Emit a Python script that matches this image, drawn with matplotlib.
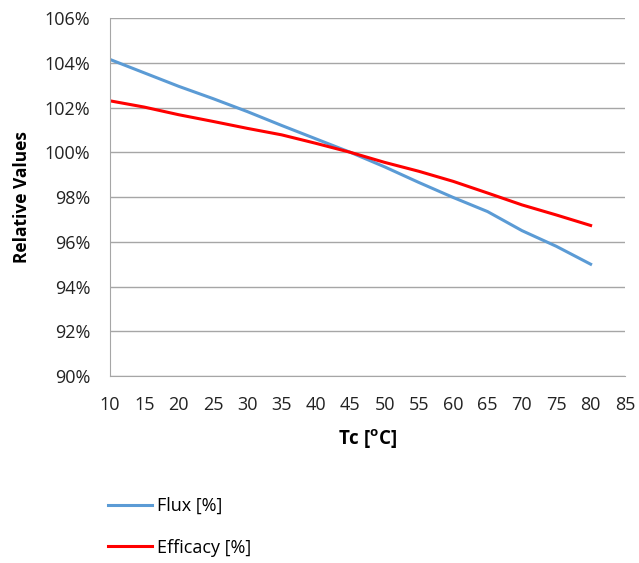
import matplotlib
matplotlib.use("Agg")
import matplotlib.pyplot as plt
from matplotlib.ticker import FuncFormatter

plt.rcParams['font.family'] = ['Open Sans', 'DejaVu Sans']

# Data
temps = [10, 15, 20, 25, 30, 35, 40, 45, 50, 55, 60, 65, 70, 75, 80]
flux = [104.15, 103.55, 102.95, 102.4, 101.82, 101.2, 100.6, 100.0,
        99.35, 98.65, 97.98, 97.35, 96.5, 95.8, 95.0]
efficacy = [102.3, 102.02, 101.68, 101.38, 101.07, 100.78, 100.4, 100.0,
            99.55, 99.15, 98.7, 98.18, 97.65, 97.2, 96.73]
x_ticks = list(range(10, 90, 5))
y_ticks = list(range(90, 108, 2))

fig = plt.figure(figsize=(6.39, 5.63), dpi=100)
ax = fig.add_axes([0.172, 0.332, 0.806, 0.636])

ax.plot(temps, flux, color='#5B9BD5', linewidth=2.2, label='Flux [%]')
ax.plot(temps, efficacy, color='#FF0000', linewidth=2.2, label='Efficacy [%]')

ax.set_xlim(10, 85)
ax.set_ylim(90, 106)
ax.set_xticks(x_ticks)
ax.set_yticks(y_ticks)
ax.yaxis.set_major_formatter(FuncFormatter(lambda v, p: f'{v:.0f}%'))
ax.tick_params(axis='both', length=0, labelsize=13, colors='#222222')
ax.tick_params(axis='x', pad=14)
ax.tick_params(axis='y', pad=14)

ax.grid(axis='y', color='#A6A6A6', linewidth=1.0)
ax.set_axisbelow(True)
for side in ['top', 'right']:
    ax.spines[side].set_visible(False)
ax.spines['left'].set_color('#A6A6A6')
ax.spines['bottom'].set_color('#A6A6A6')

ax.set_xlabel('Tc [$\\mathregular{^o}$C]', fontsize=13.5, fontweight='bold', labelpad=10)
ax.set_ylabel('Relative Values', fontsize=12.5, fontweight='bold', labelpad=10)

fig.legend(loc='upper left', bbox_to_anchor=(0.144, 0.146), frameon=False,
           fontsize=13, handlelength=2.4, handletextpad=0.3, labelspacing=1.3)

fig.savefig('out.png', dpi=100)
